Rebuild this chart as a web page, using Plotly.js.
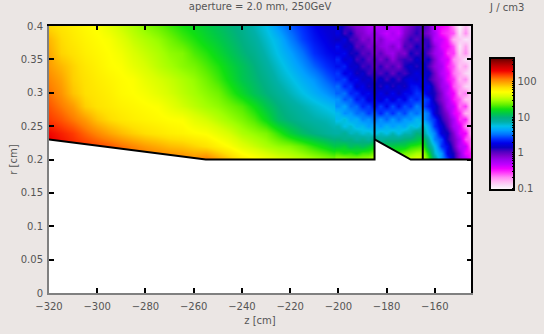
<!DOCTYPE html>
<html>
<head>
<meta charset="utf-8">
<script src="https://cdn.plot.ly/plotly-3.0.1.min.js"></script>
<style>html,body{margin:0;padding:0;background:#ebe6e4}</style>
</head>
<body>
<div id="graph" style="width:544px;height:334px"></div>
<script>
// left part of the map: smooth, so a coarse table is enough
var zLeft = [-320,-315,-310,-305,-300,-295,-290,-285,-280,-275,-270,-265,-260,-255,-250,-245,-240,-235,-230,-225,-220,-215,-210,-205,-200];
var rLeft = [0.20,0.22,0.24,0.26,0.28,0.30,0.32,0.34,0.36,0.38,0.40];

// log10 of energy density [J/cm3]
var l020 = [2.4,2.35,2.3,2.28,2.25,2.22,2.2,2.18,2.15,2.12,2.1,2.08,2.05,2.1,2.0,1.9,1.8,1.74,1.68,1.62,1.58,1.54,1.5,1.46,1.42];
var l022 = [2.35,2.3,2.25,2.22,2.18,2.15,2.1,2.05,2.0,1.96,1.92,1.9,1.86,1.82,1.76,1.7,1.62,1.56,1.5,1.45,1.42,1.35,1.26,1.18,1.08];
var l024 = [2.3,2.25,2.2,2.12,2.05,1.98,1.92,1.87,1.83,1.8,1.77,1.75,1.72,1.7,1.64,1.58,1.5,1.45,1.4,1.28,1.15,1.05,.98,.92,.87];
var l026 = [2.2,2.15,2.08,2.0,1.9,1.84,1.8,1.77,1.75,1.73,1.71,1.7,1.63,1.58,1.52,1.46,1.4,1.32,1.2,1.05,.98,.92,.87,.84,.78];
var l028 = [2.15,2.08,2.0,1.87,1.82,1.79,1.76,1.74,1.72,1.7,1.64,1.58,1.53,1.48,1.44,1.38,1.32,1.22,1.1,1.0,.92,.86,.8,.74,.68];
var l030 = [2.1,2.02,1.9,1.83,1.8,1.77,1.73,1.71,1.68,1.63,1.58,1.53,1.48,1.43,1.38,1.28,1.18,1.08,1.0,.92,.84,.76,.68,.6,.5];
var l032 = [2.05,1.98,1.87,1.82,1.78,1.75,1.72,1.7,1.64,1.59,1.55,1.5,1.45,1.38,1.3,1.2,1.1,1.03,.95,.85,.77,.68,.6,.48,.38];
var l034 = [2.0,1.93,1.86,1.8,1.76,1.72,1.7,1.64,1.59,1.53,1.48,1.43,1.39,1.32,1.25,1.16,1.08,1.0,.9,.8,.7,.6,.48,.38,.3];
var l036 = [1.97,1.86,1.82,1.77,1.74,1.71,1.67,1.6,1.55,1.5,1.44,1.41,1.32,1.26,1.18,1.1,1.02,.95,.85,.74,.64,.52,.38,.3,.25];
var l038 = [1.93,1.84,1.79,1.75,1.72,1.69,1.62,1.55,1.5,1.45,1.38,1.31,1.25,1.18,1.12,1.05,.98,.9,.8,.7,.55,.42,.32,.25,.15];
var l040 = [1.85,1.81,1.77,1.73,1.7,1.63,1.56,1.5,1.43,1.37,1.3,1.24,1.19,1.13,1.07,1.01,.95,.85,.75,.6,.47,.38,.28,.2,.2];

var zRight = [-200,-197.5,-195,-192.5,-190,-187.5,-185,-182.5,-180,-177.5,-175,-172.5,-170,-167.5,-165,-162.5,-160,-157.5,-155,-152.5,-150,-147.5,-145];
var rRight = [0.20,0.21,0.22,0.23,0.24,0.25,0.26,0.27,0.28,0.29,0.30,0.31,0.32,0.33,0.34,0.35,0.36,0.37,0.38,0.39,0.40];

var q020 = [1.5,1.52,1.45,1.5,1.48,1.52,1.58,1.5,1.5,1.5,1.55,1.55,1.6,1.65,1.62,1.35,1.0,.6,.42,.15,-.15,-.25,-.55];
var q021 = [1.3,1.25,1.28,1.22,1.3,1.3,1.4,1.3,1.3,1.32,1.3,1.38,1.42,1.48,1.5,1.2,.8,.6,.25,.12,-.15,-.45,-.5];
var q022 = [1.12,1.15,1.05,1.1,1.05,1.12,1.2,1.1,1.12,1.12,1.15,1.15,1.25,1.28,1.32,.98,.75,.38,.28,0,-.3,-.35,-.7];
var q023 = [1.0,.95,.98,.9,.95,.88,1.0,.9,.95,.95,.95,1.0,1.02,1.08,1.15,.88,.55,.42,.12,-.05,-.25,-.6,-.65];
var q024 = [.88,.92,.82,.85,.78,.82,.72,.82,.75,.85,.75,.85,.85,1.0,.95,.72,.55,.22,.15,-.1,-.4,-.45,-.85];
var q025 = [.85,.75,.8,.7,.72,.62,.68,.6,.7,.62,.7,.65,.78,.72,.85,.65,.38,.22,.02,-.25,-.38,-.7,-.75];
var q026 = [.72,.78,.65,.68,.55,.6,.5,.6,.48,.62,.5,.62,.58,.72,.65,.5,.38,.1,-.05,-.25,-.55,-.5,-.9];
var q027 = [.72,.58,.62,.5,.52,.4,.48,.35,.5,.38,.52,.42,.58,.5,.62,.5,.2,.05,-.12,-.4,-.5,-.8,-.8];
var q028 = [.58,.65,.48,.5,.35,.42,.28,.42,.28,.45,.3,.45,.38,.55,.45,.32,.22,0,-.25,-.35,-.65,-.55,-.95];
var q029 = [.6,.45,.5,.32,.38,.22,.3,.2,.35,.2,.35,.25,.42,.35,.45,.38,.1,-.1,-.25,-.5,-.6,-.85,-.85];
var q030 = [.48,.52,.35,.38,.25,.3,.15,.28,.15,.3,.15,.3,.28,.4,.35,.2,.12,-.1,-.35,-.45,-.75,-.65,-.95];
var q031 = [.5,.35,.4,.2,.28,.12,.2,.1,.25,.1,.22,.12,.3,.32,.22,.28,.05,-.2,-.3,-.6,-.7,-.9,-.9];
var q032 = [.38,.42,.25,.3,.15,.2,.08,.2,.05,.18,.05,.2,.25,.18,.3,.1,-.05,-.2,-.45,-.55,-.8,-.7,-1];
var q033 = [.4,.25,.3,.12,.2,.05,.1,.02,.12,-.02,.12,.05,.15,.25,.15,.18,-.05,-.3,-.4,-.65,-.75,-.9,-.95];
var q034 = [.3,.35,.18,.2,.05,.1,-.02,.1,-.05,.05,-.08,.12,.2,.1,.22,.05,-.15,-.25,-.5,-.6,-.85,-.75,-1];
var q035 = [.35,.2,.25,.05,.12,-.02,.05,-.08,.05,-.15,.02,.08,.05,.2,.1,.15,-.1,-.35,-.4,-.7,-.8,-.95,-.9];
var q036 = [.25,.3,.12,.15,0,.05,-.1,0,-.15,-.2,-.05,-.1,.15,.05,.15,0,-.2,-.3,-.55,-.55,-.9,-.7,-1];
var q037 = [.3,.15,.2,0,.05,-.1,-.05,-.15,-.2,-.1,-.25,.05,0,.15,.05,.1,-.15,-.4,-.45,-.6,-.95,-.75,-1];
var q038 = [.15,.25,.05,.05,-.12,-.05,-.2,-.1,-.25,-.3,-.2,-.05,.1,0,.1,.05,-.3,-.35,-.5,-.8,-.85,-.95,-.9];
var q039 = [.25,.05,.15,-.05,-.1,-.2,-.15,-.25,-.35,-.25,-.35,-.1,0,.1,0,-.1,-.25,-.5,-.55,-.6,-.95,-.7,-1];
var q040 = [.2,.1,0,-.1,-.15,-.25,-.3,-.25,-.2,-.35,-.3,-.15,-.05,.05,.05,-.05,-.35,-.45,-.5,-.7,-1,-.8,-1];

// beam pipe wall: the area under it stays empty
var maskZ = [-320,-255,-185,-185,-170,-145,-145,-320];
var maskR = [0.23,0.20,0.20,0.23,0.20,0.20,0,0];
var wallZ = [-320,-255,-185,-185,null,-185,-170,-145,null,-165,-165];
var wallR = [0.23,0.20,0.20,0.40,null,0.23,0.20,0.20,null,0.20,0.40];

var bandColors = ['#ffffff','#f8e0f8','#ffb8f4','#ff88f6','#ff40fa','#f000ff','#c000ff','#a000f0',
  '#8000d0','#5000c0','#0a00c0','#0000e8','#0030ff','#0070ff','#00a0ff','#00c0e8',
  '#00b0a8','#00b080','#00c848','#10e010','#60f000','#a0ff00','#d8ff00','#ffff00',
  '#ffe000','#ffb000','#ff8000','#ff4000','#f00000','#c80000','#980000','#600000'];

// decades get a label, the other log steps only a tick
var scaleVals = [-1,-.7,-.52,-.4,-.3,-.22,-.15,-.1,-.05,0,.3,.48,.6,.7,.78,.85,.9,.95,1,1.3,1.48,1.6,1.7,1.78,1.85,1.9,1.95,2,2.3,2.48,2.6];
var scaleText = ['0.1','','','','','','','','','1','','','','','','','','','10','','','','','','','','','100','','',''];

var colorscale = [];
for (var i = 0; i < bandColors.length; i++) {
    colorscale.push([i / (bandColors.length - 1), bandColors[i]]);
}

var axisFont = {family: 'DejaVu Sans', size: 10, color: '#555555'};

var traces = [
  {
    type: 'heatmap',
    x: zLeft,
    y: rLeft,
    z: [l020,l022,l024,l026,l028,l030,l032,l034,l036,l038,l040],
    zsmooth: 'best',
    zmin: -1.05,
    zmax: 2.67,
    colorscale: colorscale,
    hoverinfo: 'skip',
    colorbar: {
      x: 1.045, xanchor: 'left', xpad: 0,
      y: 0.633, yanchor: 'middle', ypad: 0,
      len: 132, lenmode: 'pixels',
      thickness: 24,
      outlinecolor: '#000000', outlinewidth: 2,
      tickmode: 'array', tickvals: scaleVals, ticktext: scaleText,
      ticks: 'inside', ticklen: 3, tickcolor: '#000000',
      tickfont: axisFont
    }
  },
  {
    type: 'heatmap',
    x: zRight,
    y: rRight,
    z: [q020,q021,q022,q023,q024,q025,q026,q027,q028,q029,q030,q031,q032,q033,q034,q035,q036,q037,q038,q039,q040],
    zsmooth: 'best',
    zmin: -1.05,
    zmax: 2.67,
    colorscale: colorscale,
    showscale: false,
    hoverinfo: 'skip'
  },
  {
    type: 'scatter', mode: 'lines', x: maskZ, y: maskR,
    fill: 'toself', fillcolor: '#ffffff', line: {width: 0}, hoverinfo: 'skip'
  },
  {
    type: 'scatter', mode: 'lines', x: wallZ, y: wallR, xaxis: 'x2', yaxis: 'y2',
    line: {color: '#000000', width: 2}, connectgaps: false, hoverinfo: 'skip'
  }
];

var layout = {
  width: 544,
  height: 334,
  margin: {l: 49, r: 73, t: 26, b: 41, autoexpand: false},
  paper_bgcolor: '#ebe6e4',
  plot_bgcolor: '#ffffff',
  showlegend: false,
  font: axisFont,
  title: {text: 'aperture = 2.0 mm, 250GeV', x: 0.478, xanchor: 'center', y: 0.992, yanchor: 'top', font: {family: 'DejaVu Sans', size: 10, color: '#555555'}},
  xaxis: {
    range: [-320,-145], tick0: -320, dtick: 20, ticks: 'inside', ticklen: 5, tickwidth: 2, tickcolor: '#000000',
    showgrid: false, zeroline: false, showline: true, linecolor: '#808080', linewidth: 2,
    tickfont: axisFont, ticklabelstandoff: 3, automargin: true,
    title: {text: 'z [cm]', font: axisFont, standoff: 6}
  },
  yaxis: {
    range: [0,0.4], dtick: 0.05, ticks: 'inside', ticklen: 5, tickwidth: 2, tickcolor: '#000000',
    showgrid: false, zeroline: false, showline: true, linecolor: '#808080', linewidth: 2,
    tickfont: axisFont, ticklabelstandoff: 2, automargin: true,
    title: {text: 'r [cm]', font: axisFont, standoff: 1}
  },
  xaxis2: {
    range: [-320,-145], tick0: -320, dtick: 20, overlaying: 'x', side: 'top', anchor: 'y2',
    ticks: 'inside', ticklen: 4, tickwidth: 2, tickcolor: '#000000', showticklabels: false,
    showgrid: false, zeroline: false, showline: true, linecolor: '#000000', linewidth: 2
  },
  yaxis2: {
    range: [0,0.4], dtick: 0.05, overlaying: 'y', side: 'right', anchor: 'x2',
    ticks: 'inside', ticklen: 4, tickwidth: 2, tickcolor: '#000000', showticklabels: false,
    showgrid: false, zeroline: false, showline: true, linecolor: '#000000', linewidth: 2
  },
  annotations: [{
    text: 'J / cm3', xref: 'paper', yref: 'paper', x: 1.083, y: 1.071, xanchor: 'center', yanchor: 'middle',
    showarrow: false, font: {family: 'DejaVu Sans', size: 10, color: '#555555'}
  }]
};

Plotly.newPlot('graph', traces, layout, {displayModeBar: false, staticPlot: true});
</script>
</body>
</html>
